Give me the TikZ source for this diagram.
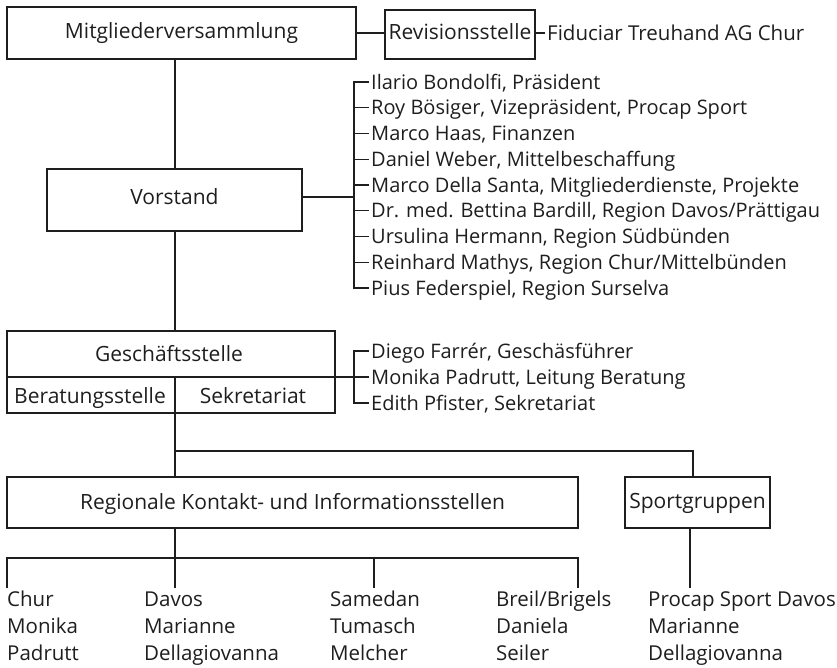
\documentclass[tikz,border=0pt]{standalone}
\usepackage{fontspec}
\setmainfont{Open Sans}
\definecolor{ink}{HTML}{1E1E1E}
\begin{document}
\begin{tikzpicture}[x=1pt,y=-1pt,
  every node/.style={font=\fontsize{21}{25}\selectfont, text=ink, text height=15pt, text depth=4pt},
  box/.style={draw=ink, line width=1.3pt, inner sep=0pt},
  lbl/.style={font=\fontsize{20}{24}\selectfont, inner xsep=2pt, inner ysep=0pt, text height=14.3pt, text depth=0pt, anchor=west},
  col/.style={font=\fontsize{20.5}{24}\selectfont, inner sep=0pt, anchor=base west, text height=14.6pt, text depth=0pt},
  conn/.style={draw=ink, line width=1.3pt}]
\useasboundingbox (0,0) rectangle (837,668);
% coordinates
\coordinate (ax) at (175,0);
\coordinate (bx) at (354,0);
\coordinate (bj) at (354,197);
\coordinate (gd) at (0,377);
\coordinate (hb) at (0,451);
\coordinate (lb) at (0,558);
\coordinate (sx) at (693,0);
\coordinate (t1) at (7,588);
\coordinate (t2) at (175,588);
\coordinate (t3) at (374,588);
\coordinate (t4) at (578,588);
\coordinate (s2) at (690,588);
% top
\node[box, minimum width=349pt, minimum height=52pt] (mv) at (181.5,33) {Mitgliederversammlung};
\node[box, minimum width=150pt, minimum height=49pt] (rev) at (460,34.5) {Revisionsstelle};
\node[lbl, font=\fontsize{20.5}{24}\selectfont] (fid) at (545,33) {Fiduciar Treuhand AG Chur};
\draw[conn] (mv.east) -- (mv.east -| rev.west);
\draw[conn] (rev.east |- fid.west) -- (fid.west);
% Vorstand
\node[box, minimum width=255pt, minimum height=62pt, text depth=6pt] (vs) at (174.5,200) {Vorstand};
\draw[conn] (ax |- mv.south) -- (ax |- vs.north);
\node[lbl] (m1) at (369,82) {Ilario Bondolfi, Präsident};
\node[lbl] (m2) at (369,107.75) {Roy Bösiger, Vizepräsident, Procap Sport};
\node[lbl] (m3) at (369,133.5) {Marco Haas, Finanzen};
\node[lbl] (m4) at (369,159.25) {Daniel Weber, Mittelbeschaffung};
\node[lbl] (m5) at (369,185) {Marco Della Santa, Mitgliederdienste, Projekte};
\node[lbl] (m6) at (369,210.75) {Dr. med. Bettina Bardill, Region Davos/Prättigau};
\node[lbl] (m7) at (369,236.5) {Ursulina Hermann, Region Südbünden};
\node[lbl] (m8) at (369,262.25) {Reinhard Mathys, Region Chur/Mittelbünden};
\node[lbl] (m9) at (369,288) {Pius Federspiel, Region Surselva};
\draw[conn] (m1.west) -- (m1.west -| bx) -- (m9.west -| bx) -- (m9.west);
\foreach \i in {2,...,8} {\draw[conn] (m\i.west -| bx) -- (m\i.west);}
\draw[conn] (vs.east |- bj) -- (bj);
% Geschaeftsstelle
\node[box, minimum width=328pt, minimum height=82pt] (gs) at (171,372) {};
\draw[conn] (ax |- vs.south) -- (ax |- gs.north);
\node[inner sep=0pt, text depth=0pt] (gst) at (169,354) {Geschäftsstelle};
\node[inner sep=0pt, text depth=0pt] (ber) at (90,396) {Beratungsstelle};
\node[inner sep=0pt, text depth=0pt] (sek) at (253,396) {Sekretariat};
\draw[conn] (gs.west |- gd) -- (gs.east |- gd);
\draw[conn] (ax |- gd) -- (ax |- gs.south);
\node[lbl] (g1) at (369,351) {Diego Farrér, Geschäsführer};
\node[lbl] (g2) at (369,377) {Monika Padrutt, Leitung Beratung};
\node[lbl] (g3) at (369,403) {Edith Pfister, Sekretariat};
\draw[conn] (g1.west) -- (g1.west -| bx) -- (g3.west -| bx) -- (g3.west);
\draw[conn] (gs.east |- gd) -- (g2.west);
% lower boxes
\node[box, minimum width=571pt, minimum height=51pt, text depth=2pt] (rk) at (292.5,502.5) {Regionale Kontakt- und Informationsstellen};
\node[box, minimum width=145pt, minimum height=51pt, text depth=3pt] (sg) at (697.5,502.5) {Sportgruppen};
\draw[conn] (ax |- gs.south) -- (ax |- rk.north);
\draw[conn] (ax |- hb) -- (sx |- hb) -- (sx |- sg.north);
\draw[conn] (t1) -- (t1 |- lb) -- (t4 |- lb) -- (t4);
\draw[conn] (ax |- rk.south) -- (t2);
\draw[conn] (t3 |- lb) -- (t3);
\draw[conn] (s2 |- sg.south) -- (s2);
% columns
\node[col] (c1a) at (7,606) {Chur};
\node[col] (c1b) at (7,633) {Monika};
\node[col] (c1c) at (7,660) {Padrutt};
\node[col] (c2a) at (144,606) {Davos};
\node[col] (c2b) at (144,633) {Marianne};
\node[col] (c2c) at (144,660) {Dellagiovanna};
\node[col] (c3a) at (330,606) {Samedan};
\node[col] (c3b) at (330,633) {Tumasch};
\node[col] (c3c) at (330,660) {Melcher};
\node[col] (c4a) at (496,606) {Breil/Brigels};
\node[col] (c4b) at (496,633) {Daniela};
\node[col] (c4c) at (496,660) {Seiler};
\node[col] (c5a) at (648,606) {Procap Sport Davos};
\node[col] (c5b) at (648,633) {Marianne};
\node[col] (c5c) at (648,660) {Dellagiovanna};
\end{tikzpicture}
\end{document}
